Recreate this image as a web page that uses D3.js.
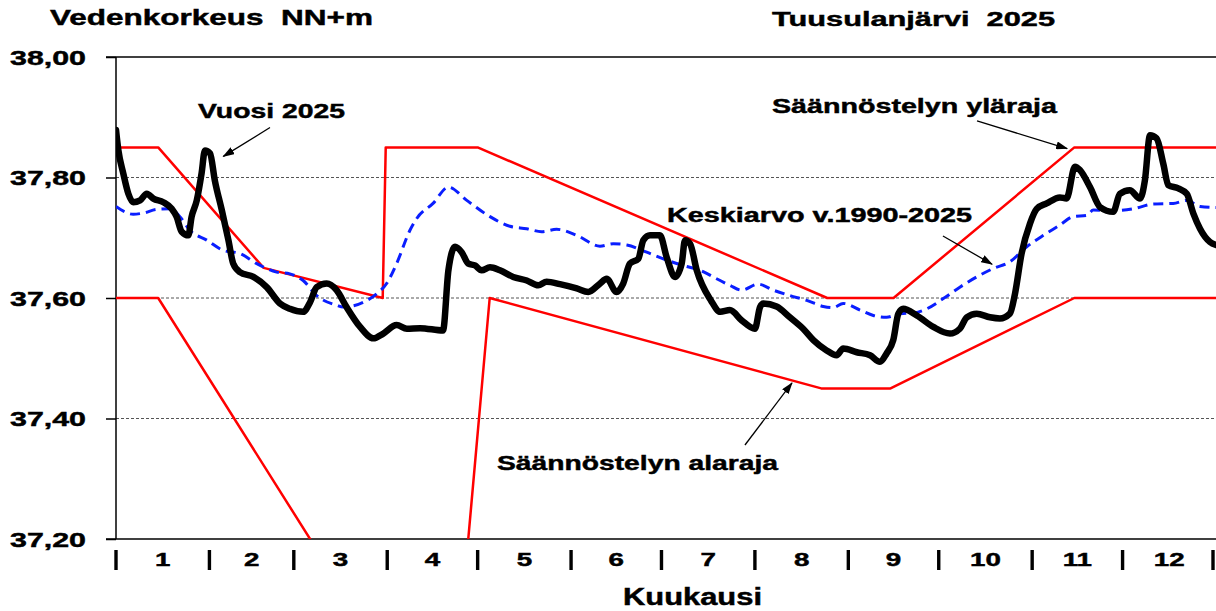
<!DOCTYPE html>
<html><head><meta charset="utf-8">
<script src="https://cdn.jsdelivr.net/npm/d3@7"></script>
<style>
body{margin:0;background:#fff}
svg{display:block}
text{font-family:"Liberation Sans",Arial,sans-serif;font-weight:bold;fill:#000;stroke:#000;stroke-width:0.45px}
</style>
</head><body>
<svg id="c" width="1216" height="611"></svg>
<script>
// ---------- data ----------
const monthLabels = ["1","2","3","4","5","6","7","8","9","10","11","12"];
const monthStartDays = [0,31,59,90,120,151,181,212,243,273,304,334,365];
const yTicks = [37.2,37.4,37.6,37.8,38.0];
const gridLevels = [37.4,37.6,37.8];

// Säännöstelyn yläraja  [day of year, NN+m]
const upperLimit = [[0,37.85],[14,37.85],[49,37.65],[88.5,37.60],[89.5,37.85],[120,37.85],[236,37.60],[258,37.60],[318,37.85],[365,37.85]];
// Säännöstelyn alaraja
const lowerLimit = [[0,37.60],[14,37.60],[110.4,36.835],[124,37.60],[234,37.45],[257,37.45],[318,37.60],[365,37.60]];
// Keskiarvo v.1990-2025
const meanLevel = [[0,37.752],[5.7,37.739],[9.1,37.741],[13.5,37.747],[17.9,37.748],[21.2,37.735],[24.6,37.712],[30.1,37.696],[35.6,37.679],[41.1,37.674],[46.7,37.657],[53.3,37.643],[57.7,37.640],[62.1,37.629],[66.6,37.604],[73.2,37.588],[75.4,37.585],[82.1,37.593],[86.5,37.607],[89.8,37.624],[93.1,37.657],[97.5,37.712],[99.8,37.732],[105.2,37.757],[110.3,37.784],[116.4,37.762],[124.1,37.735],[130.7,37.719],[136.3,37.715],[141.2,37.710],[146.2,37.714],[152.9,37.704],[160.6,37.686],[165,37.690],[169.5,37.688],[176.1,37.676],[182.7,37.663],[188.2,37.654],[193.8,37.646],[199.3,37.632],[203.7,37.621],[207.6,37.613],[213.1,37.623],[218.1,37.613],[223.6,37.604],[229.2,37.596],[234.7,37.586],[238,37.584],[241.3,37.591],[246.9,37.580],[251.3,37.571],[255.7,37.568],[260.1,37.574],[264.5,37.575],[269,37.582],[274.5,37.599],[280,37.618],[285.6,37.635],[291.1,37.649],[296.6,37.660],[302.2,37.685],[307.7,37.704],[313.2,37.721],[317.6,37.735],[322.1,37.737],[324.3,37.746],[330.9,37.745],[337.5,37.748],[344.2,37.756],[350.8,37.757],[355.3,37.762],[359.7,37.752],[365,37.750]];
// Vuosi 2025
const year2025 = [[0,37.879],[0.8,37.845],[2.4,37.807],[4.1,37.773],[5.7,37.759],[8,37.762],[10.2,37.773],[12.4,37.765],[15.7,37.759],[18.5,37.748],[20.1,37.735],[21.8,37.710],[24,37.704],[25.1,37.735],[26.8,37.762],[28.4,37.807],[29.5,37.845],[31.2,37.840],[32.8,37.795],[35.1,37.746],[37.3,37.696],[38.9,37.657],[41.1,37.643],[45.6,37.635],[50,37.618],[54.4,37.591],[57.7,37.582],[62.1,37.577],[64.4,37.593],[66.6,37.618],[69.9,37.624],[73.2,37.613],[76.5,37.585],[81,37.552],[85.4,37.533],[88.7,37.541],[93.1,37.555],[96.5,37.549],[100.9,37.550],[108.5,37.546],[110.3,37.646],[112.5,37.685],[114.7,37.676],[116.9,37.657],[119.1,37.654],[121.3,37.646],[124.1,37.651],[127.4,37.646],[131.8,37.635],[136.3,37.629],[140.1,37.621],[142.9,37.627],[147.3,37.623],[152.9,37.616],[156.7,37.610],[160.6,37.624],[162.8,37.632],[166.1,37.610],[168.3,37.624],[170.5,37.657],[173.3,37.665],[175,37.696],[177.2,37.704],[180.5,37.704],[182.7,37.668],[185.5,37.635],[187.7,37.657],[188.8,37.696],[190.5,37.690],[192.7,37.646],[197.4,37.596],[200.5,37.577],[203.7,37.580],[207.6,37.563],[212,37.549],[213.7,37.585],[214.8,37.591],[219.2,37.586],[223.6,37.568],[228,37.549],[231.4,37.530],[235.8,37.513],[239.1,37.505],[241.3,37.516],[245.8,37.510],[250.2,37.505],[253.5,37.494],[255.7,37.508],[257.9,37.530],[259.6,37.574],[261.2,37.582],[265.7,37.571],[271.2,37.552],[276.7,37.541],[280,37.549],[282.3,37.568],[285.6,37.574],[290,37.568],[293.3,37.566],[296.6,37.574],[298.3,37.607],[300.5,37.674],[303.3,37.724],[305.5,37.748],[308.8,37.757],[313.2,37.767],[315.4,37.765],[318.2,37.818],[319.9,37.812],[323.2,37.784],[326.5,37.751],[330.9,37.743],[333.1,37.773],[336.4,37.779],[339.8,37.765],[341.4,37.795],[343.1,37.870],[345.3,37.865],[347.5,37.823],[349.2,37.787],[352.5,37.782],[355.3,37.773],[357.5,37.740],[359.7,37.715],[363,37.693],[365,37.688]];

// annotation arrows [fromDay, fromLevel, toDay, toLevel]
const arrows = [
  [51.1,37.883,35.6,37.835],
  [285.7,37.894,315.6,37.848],
  [274.4,37.703,290.7,37.656],
  [208.7,37.356,224.3,37.459]
];

// ---------- drawing ----------
const svg = d3.select("#c");
const L = 116, R = 1216, T = 57, B = 539;
const x = d3.scaleLinear().domain([0,365]).range([L,R]);
const y = d3.scaleLinear().domain([37.2,38.0]).range([B,T]);
const fmt = v => d3.format(".2f")(v).replace(".", ",");

function txt(str, px, py, size, width, anchor) {
  const t = svg.append("text").attr("x", px).attr("y", py)
    .attr("font-size", size).text(str);
  if (anchor) t.attr("text-anchor", anchor);
  if (width) t.attr("textLength", width).attr("lengthAdjust", "spacingAndGlyphs");
  return t;
}

svg.append("defs").append("clipPath").attr("id","plot")
  .append("rect").attr("x",L).attr("y",T).attr("width",R-L).attr("height",B-T);
svg.select("defs").append("marker").attr("id","ah")
  .attr("viewBox","0 0 12 8").attr("refX",11).attr("refY",4)
  .attr("markerWidth",12).attr("markerHeight",8).attr("markerUnits","userSpaceOnUse")
  .attr("orient","auto")
  .append("path").attr("d","M0,0 L12,4 L0,8 Z").attr("fill","#000");

// gridlines
svg.append("g").selectAll("line").data(gridLevels).join("line")
  .attr("x1", L).attr("x2", R).attr("y1", d => y(d)).attr("y2", d => y(d))
  .attr("stroke", "#555").attr("stroke-width", 1).attr("stroke-dasharray", "3,2");

// y axis
const yAxis = svg.append("g").attr("transform", `translate(${L},0)`)
  .call(d3.axisLeft(y).tickValues(yTicks).tickSize(10).tickFormat(""));
yAxis.select(".domain").attr("stroke","#000").attr("stroke-width",1.5).attr("d",`M0,${T}V${B}`);
yAxis.selectAll(".tick line").attr("stroke","#000").attr("stroke-width",1.5);
yTicks.forEach(v => txt(fmt(v), 10, y(v) + 7.5, 21, 76));

// top border and bottom axis
svg.append("line").attr("x1", L-10).attr("x2", R).attr("y1", y(38)).attr("y2", y(38))
  .attr("stroke","#000").attr("stroke-width",1.5);
svg.append("line").attr("x1", L-10).attr("x2", R).attr("y1", y(37.2)).attr("y2", y(37.2))
  .attr("stroke","#000").attr("stroke-width",1.5);

// month separators and labels
svg.append("g").selectAll("line").data(monthStartDays).join("line")
  .attr("x1", d => Math.min(x(d), R-3)).attr("x2", d => Math.min(x(d), R-3))
  .attr("y1", 550).attr("y2", 570).attr("stroke","#000").attr("stroke-width",3.4);
svg.append("g").selectAll("text").data(monthLabels).join("text")
  .attr("transform", (d,i) => `translate(${x((monthStartDays[i]+monthStartDays[i+1])/2)},565.5) scale(1.5,1)`)
  .attr("text-anchor","middle").attr("font-size",18.5).text(d => d);

// series
const plot = svg.append("g").attr("clip-path","url(#plot)");
const line = d3.line().x(d => x(d[0])).y(d => y(d[1]));
const smooth = d3.line().x(d => x(d[0])).y(d => y(d[1])).curve(d3.curveMonotoneX);

plot.append("path").datum(upperLimit).attr("d", line)
  .attr("fill","none").attr("stroke","#ff0000").attr("stroke-width",2.5).attr("stroke-linejoin","round");
plot.append("path").datum(lowerLimit).attr("d", line)
  .attr("fill","none").attr("stroke","#ff0000").attr("stroke-width",2.5).attr("stroke-linejoin","round");
plot.append("path").datum(meanLevel).attr("d", smooth)
  .attr("fill","none").attr("stroke","#0a1eff").attr("stroke-width",3).attr("stroke-dasharray","10,6");
plot.append("path").datum(year2025).attr("d", smooth)
  .attr("fill","none").attr("stroke","#000").attr("stroke-width",6.5)
  .attr("stroke-linejoin","round").attr("stroke-linecap","round");

// arrows
svg.append("g").selectAll("line").data(arrows).join("line")
  .attr("x1", d => x(d[0])).attr("y1", d => y(d[1]))
  .attr("x2", d => x(d[2])).attr("y2", d => y(d[3]))
  .attr("stroke","#000").attr("stroke-width",1.3).attr("marker-end","url(#ah)");

// texts
txt("Vedenkorkeus  NN+m", 50, 25, 22, 323).style("white-space","pre").attr("xml:space","preserve");
txt("Tuusulanjärvi  2025", 772, 26, 21, 283).style("white-space","pre").attr("xml:space","preserve");
txt("Säännöstelyn yläraja", 772, 112.5, 20.5, 285);
txt("Vuosi 2025", 198, 118, 20.5, 147);
txt("Keskiarvo v.1990-2025", 667, 221.5, 19.5, 305);
txt("Säännöstelyn alaraja", 497, 470, 20.5, 281);
txt("Kuukausi", 623, 605, 23, 139);
</script>
</body></html>
